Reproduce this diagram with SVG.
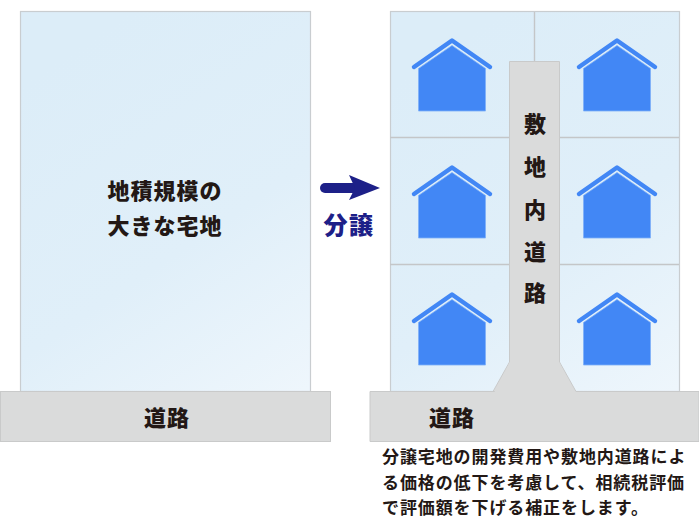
<svg xmlns="http://www.w3.org/2000/svg" width="699" height="526" viewBox="0 0 699 526">
<style>
text{font-family:"Noto Sans CJK JP",sans-serif;font-weight:900;fill:#231815}
.lot{stroke:#c9cdd0;stroke-width:1.2}
.road{fill:#dadbdb;stroke:#c9caca;stroke-width:1}
.t18{font-size:22px;letter-spacing:1px}
.note{font-size:17px;font-weight:700;letter-spacing:.9px}
.div{stroke:#c4c6c8;stroke-width:1.4;fill:none}
.wall{fill:#4287f5;stroke:#7fb0f7;stroke-width:.8}
.roof{fill:none;stroke:#4287f5;stroke-width:4.5;stroke-linecap:round;stroke-linejoin:round}
</style>
<defs>
<linearGradient id="g" gradientUnits="userSpaceOnUse" x1="60" y1="60" x2="290" y2="400"><stop offset="0" stop-color="#dcedf8"/><stop offset="0.55" stop-color="#e0eff9"/><stop offset="1" stop-color="#eef6fc"/></linearGradient>
<linearGradient id="g2" gradientUnits="userSpaceOnUse" x1="430" y1="60" x2="660" y2="400"><stop offset="0" stop-color="#dcedf8"/><stop offset="0.55" stop-color="#e0eff9"/><stop offset="1" stop-color="#eef6fc"/></linearGradient>
<g id="house">
<path class="wall" d="M0 30.500L33.500 7.500L67 30.500V73H0Z"/>
<path class="roof" d="M-4.500 29L33.500 2.500L71.500 29"/>
</g>
</defs>
<g id="site-large">
<rect class="lot" x="20.500" y="11.500" width="290" height="380" fill="url(#g)"/>
<text class="t18" x="107.500" y="198.500">地積規模の</text>
<text class="t18" x="107.500" y="233.500">大きな宅地</text>
</g>
<g id="road-left">
<rect class="road" x="0.500" y="391.500" width="330" height="50"/>
<text class="t18" x="144" y="425.500">道路</text>
</g>
<g id="connectors">
<path d="M325 188H358" stroke="#1d2088" stroke-width="10" stroke-linecap="round" fill="none"/>
<path d="M349 175L380 188L349 200L355 188Z" fill="#1d2088"/>
</g>
<g id="label-bunjo">
<text x="323.500" y="234" font-size="24" style="fill:#1d2088;letter-spacing:1.500px">分譲</text>
</g>
<g id="site-divided">
<rect class="lot" x="390.500" y="11.500" width="289" height="380" fill="url(#g2)"/>
<path class="div" d="M534.500 12V62M390 137.500H510M559 137.500H679M390 264.500H510M559 264.500H679"/>
</g>
<g id="house-1"><use href="#house" x="418.500" y="38"/></g>
<g id="house-2"><use href="#house" x="583.500" y="38"/></g>
<g id="house-3"><use href="#house" x="418.500" y="165"/></g>
<g id="house-4"><use href="#house" x="583.500" y="165"/></g>
<g id="house-5"><use href="#house" x="418.500" y="292"/></g>
<g id="house-6"><use href="#house" x="583.500" y="292"/></g>
<g id="road-right">
<path class="road" d="M510 391.500H493L509.500 362V61.500H559.500V362L576 391.500H699V441.500H370V391.500H493" />
<path d="M494 393H575V392L559 362H510Z" fill="#dadbdb"/>
<text class="t18" x="429" y="425.500">道路</text>
<text class="t18" x="524" y="131.500">敷</text>
<text class="t18" x="524" y="175">地</text>
<text class="t18" x="524" y="218">内</text>
<text class="t18" x="524" y="260">道</text>
<text class="t18" x="524" y="300.500">路</text>
</g>
<g id="note">
<text class="note" x="382" y="463">分譲宅地の開発費用や敷地内道路によ</text>
<text class="note" x="382" y="488.500">る価格の低下を考慮して、相続税評価</text>
<text class="note" x="382" y="514">で評価額を下げる補正をします。</text>
</g>
</svg>
